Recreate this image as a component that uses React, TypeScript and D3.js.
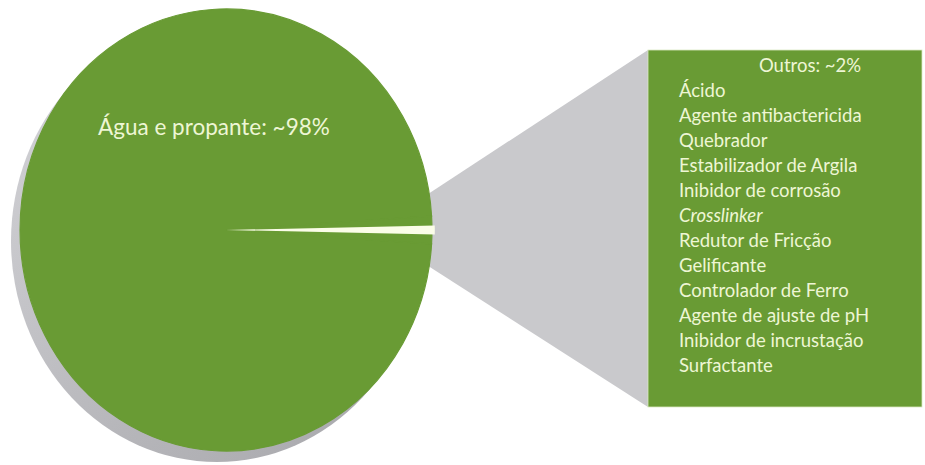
import React from "react";
import * as d3 from "d3";

const categories = ["Água e propante", "Outros"];
const values = [98, 2];
const otherItems = [
  "Ácido",
  "Agente antibactericida",
  "Quebrador",
  "Estabilizador de Argila",
  "Inibidor de corrosão",
  "Crosslinker",
  "Redutor de Fricção",
  "Gelificante",
  "Controlador de Ferro",
  "Agente de ajuste de pH",
  "Inibidor de incrustação",
  "Surfactante",
];
const italicItems = ["Crosslinker"];

const W = 925;
const H = 465;
const GREEN = "#699b34";
const TEXT = "#eef6d4";
const FONT = "Lato, 'Open Sans', sans-serif";

export default function App() {
  const cx = 226;
  const cy = 230;
  const rx = 206;
  const ry = 221;
  const r = ry;
  const sx = rx / ry;

  const pie = d3
    .pie<number>()
    .sort(null)
    .value((d) => d)
    .startAngle(Math.PI / 2 + (values[1] / 100) * Math.PI)
    .endAngle(Math.PI / 2 + (values[1] / 100) * Math.PI + 2 * Math.PI);
  const arcs = pie(values);
  const arc = d3.arc<d3.PieArcDatum<number>>().innerRadius(0).outerRadius(r);
  const slitHalf = 0.02;
  const slit = d3
    .arc()
    .innerRadius(0)
    .outerRadius(r + 3)
    .startAngle(Math.PI / 2 - slitHalf)
    .endAngle(Math.PI / 2 + slitHalf);

  const box = { x: 648, y: 50, w: 274, h: 357 };
  const yList = d3
    .scaleLinear()
    .domain([0, otherItems.length - 1])
    .range([97, 372]);

  return (
    <svg width={W} height={H} style={{ position: "absolute", left: 0, top: 0 }}>
      <defs>
        <linearGradient id="shadowGrad" x1="0" y1="0" x2="1" y2="1">
          <stop offset="0" stopColor="#d6d6da" />
          <stop offset="0.6" stopColor="#b6b6ba" />
          <stop offset="1" stopColor="#a6a6aa" />
        </linearGradient>
      </defs>
      <rect x={0} y={0} width={W} height={H} fill="#ffffff" />
      <polygon
        points={`${cx + rx - 10},${cy - 32} ${box.x},${box.y} ${box.x},${box.y + box.h} ${cx + rx - 10},${cy + 32}`}
        fill="#c9c9cc"
      />
      <ellipse cx={cx - 9} cy={cy + 11} rx={rx} ry={ry} fill="url(#shadowGrad)" />
      <g transform={`translate(${cx},${cy}) scale(${sx},1)`}>
        {arcs.map((a, i) => (
          <path key={categories[i]} d={arc(a) || ""} fill={GREEN} stroke={GREEN} strokeWidth={1.2} />
        ))}
        <path d={(slit as any)() || ""} fill="#fbfde8" />
      </g>
      <text x={98} y={135} fill={TEXT} fontFamily={FONT} fontSize={22.5}>
        {`${categories[0]}: ~${values[0]}%`}
      </text>
      <rect x={box.x} y={box.y} width={box.w} height={box.h} fill={GREEN} stroke="#dbe8c4" strokeWidth={0.8} />
      <text x={810} y={72} textAnchor="middle" fill={TEXT} fontFamily={FONT} fontSize={18.5}>
        {`${categories[1]}: ~${values[1]}%`}
      </text>
      {otherItems.map((t, i) => (
        <text
          key={t}
          x={679}
          y={yList(i)}
          fill={TEXT}
          fontFamily={FONT}
          fontSize={18.5}
          fontStyle={italicItems.includes(t) ? "italic" : "normal"}
        >
          {t}
        </text>
      ))}
    </svg>
  );
}
